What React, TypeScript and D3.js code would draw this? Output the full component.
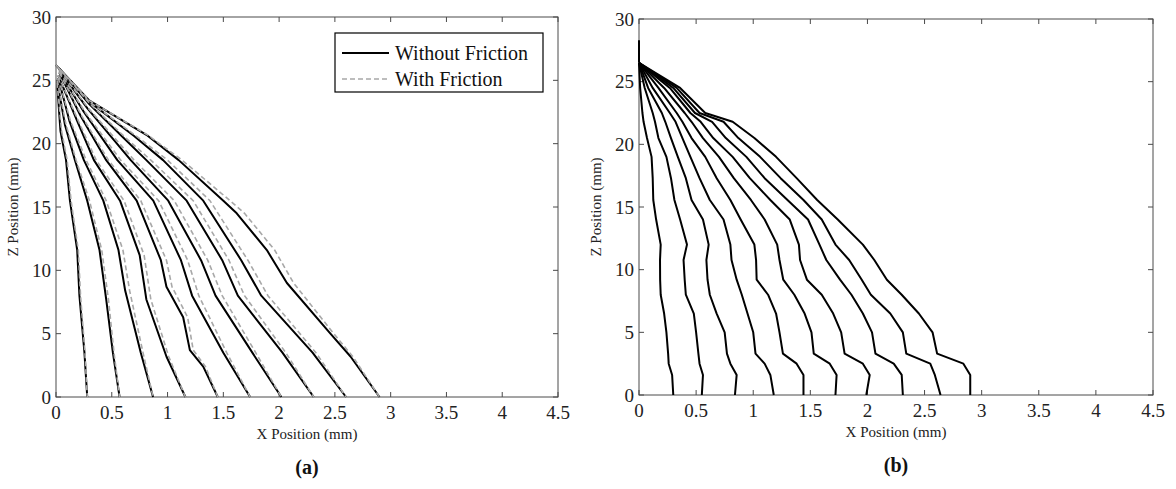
import React from "react";
import * as d3 from "d3";

// ---------- data ----------
const X_TICKS = [0, 0.5, 1, 1.5, 2, 2.5, 3, 3.5, 4, 4.5];
const Y_TICKS = [0, 5, 10, 15, 20, 25, 30];
const X_DOMAIN: [number, number] = [0, 4.5];
const Y_DOMAIN: [number, number] = [0, 30];

const LEGEND_LABELS = ["Without Friction", "With Friction"];
const X_LABEL = "X Position (mm)";
const Y_LABEL = "Z Position (mm)";
const PANEL_LABELS = ["(a)", "(b)"];

// Panel (a): black solid curves, without friction, [x, z]
const LEFT_WITHOUT: [number, number][][] = [
  [[0.01, 24.8], [0.04, 21.0], [0.09, 18.7], [0.125, 15.5], [0.19, 11.6], [0.21, 8], [0.255, 3.5], [0.28, 0]],
  [[0.01, 25.0], [0.08, 21.5], [0.17, 18.7], [0.28, 15.5], [0.39, 11.6], [0.45, 7.7], [0.51, 3.5], [0.57, 0]],
  [[0.02, 25.2], [0.12, 21.8], [0.25, 18.7], [0.424, 15.5], [0.56, 11.6], [0.62, 8.4], [0.76, 3.5], [0.87, 0]],
  [[0.02, 25.4], [0.18, 22.0], [0.34, 18.7], [0.574, 15.5], [0.75, 11.2], [0.81, 7.7], [0.99, 3.2], [1.16, 0]],
  [[0.03, 25.6], [0.22, 22.2], [0.45, 18.7], [0.723, 15.5], [0.94, 10.8], [0.99, 8.7], [1.14, 6.3], [1.2, 3.7], [1.32, 2.4], [1.45, 0]],
  [[0.03, 25.7], [0.25, 22.5], [0.55, 18.7], [0.872, 15.5], [1.12, 10.8], [1.22, 8], [1.5, 3.5], [1.74, 0]],
  [[0.03, 25.8], [0.28, 22.8], [0.67, 18.7], [1.006, 15.5], [1.3, 10.8], [1.43, 8], [1.76, 3.5], [2.02, 0]],
  [[0.03, 25.9], [0.3, 23.1], [0.6, 20.5], [0.81, 18.7], [1.171, 15.5], [1.49, 10.8], [1.63, 8], [2.03, 3.5], [2.31, 0]],
  [[0.02, 26.0], [0.3, 23.3], [0.7, 20.6], [0.96, 18.7], [1.32, 15.5], [1.66, 10.8], [1.84, 8], [2.3, 3.5], [2.6, 0]],
  [[0, 26.2], [0.3, 23.4], [0.81, 20.7], [1.1, 18.7], [1.5, 15.5], [1.62, 14.5], [1.89, 11.6], [2.07, 9.0], [2.46, 5.0], [2.64, 3.2], [2.9, 0]],
];

// Panel (a): grey dashed curves, with friction, [x, z]
const LEFT_WITH: [number, number][][] = [
  [[0.01, 24.8], [0.05, 21.0], [0.1, 18.7], [0.135, 15.5], [0.2, 11.6], [0.22, 8], [0.26, 3.5], [0.28, 0]],
  [[0.01, 25.0], [0.09, 21.5], [0.18, 18.7], [0.3, 15.5], [0.41, 11.6], [0.47, 7.7], [0.52, 3.5], [0.57, 0]],
  [[0.02, 25.2], [0.13, 21.8], [0.27, 18.7], [0.45, 15.5], [0.6, 11.6], [0.66, 8.4], [0.78, 3.5], [0.87, 0]],
  [[0.02, 25.4], [0.19, 22.0], [0.36, 18.7], [0.61, 15.5], [0.79, 11.2], [0.85, 7.7], [1.01, 3.2], [1.16, 0]],
  [[0.03, 25.6], [0.23, 22.2], [0.47, 18.7], [0.76, 15.5], [0.99, 10.8], [1.04, 8.7], [1.18, 6.3], [1.23, 3.7], [1.34, 2.4], [1.45, 0]],
  [[0.03, 25.7], [0.26, 22.5], [0.58, 18.7], [0.92, 15.5], [1.18, 10.8], [1.28, 8], [1.53, 3.5], [1.74, 0]],
  [[0.03, 25.8], [0.29, 22.8], [0.7, 18.7], [1.06, 15.5], [1.36, 10.8], [1.49, 8], [1.79, 3.5], [2.02, 0]],
  [[0.03, 25.9], [0.31, 23.1], [0.62, 20.5], [0.85, 18.7], [1.23, 15.5], [1.55, 10.8], [1.69, 8], [2.06, 3.5], [2.31, 0]],
  [[0.02, 26.0], [0.3, 23.3], [0.72, 20.6], [1.0, 18.7], [1.38, 15.5], [1.72, 10.8], [1.9, 8], [2.33, 3.5], [2.6, 0]],
  [[0, 26.2], [0.3, 23.4], [0.82, 20.7], [1.13, 18.7], [1.56, 15.5], [1.69, 14.5], [1.96, 11.6], [2.13, 9.0], [2.49, 5.0], [2.66, 3.2], [2.9, 0]],
];

// Panel (b): z levels shared by every curve, and x of each curve at those levels
const RIGHT_Z = [26.5, 24.5, 22.5, 21.8, 20.5, 19, 17.3, 15.56, 14, 12, 10.77, 9.2, 8, 6.5, 5, 3.3, 2.5, 1.6, 0];
const RIGHT_X: number[][] = [
  [0, 0.01, 0.03, 0.04, 0.07, 0.11, 0.12, 0.125, 0.15, 0.19, 0.184, 0.185, 0.19, 0.22, 0.24, 0.255, 0.26, 0.29, 0.3],
  [0, 0.05, 0.12, 0.14, 0.17, 0.24, 0.28, 0.31, 0.36, 0.42, 0.39, 0.4, 0.41, 0.48, 0.5, 0.52, 0.53, 0.56, 0.55],
  [0, 0.08, 0.2, 0.23, 0.28, 0.34, 0.41, 0.46, 0.56, 0.61, 0.59, 0.6, 0.62, 0.68, 0.75, 0.77, 0.8, 0.855, 0.84],
  [0, 0.12, 0.27, 0.32, 0.38, 0.45, 0.53, 0.62, 0.74, 0.8, 0.81, 0.855, 0.9, 0.95, 1.0, 1.02, 1.1, 1.15, 1.18],
  [0, 0.17, 0.33, 0.38, 0.46, 0.58, 0.68, 0.8, 0.89, 1.01, 1.025, 1.03, 1.13, 1.2, 1.23, 1.26, 1.38, 1.44, 1.44],
  [0, 0.22, 0.4, 0.46, 0.56, 0.7, 0.83, 0.98, 1.1, 1.21, 1.23, 1.263, 1.36, 1.45, 1.51, 1.53, 1.67, 1.73, 1.72],
  [0, 0.27, 0.45, 0.54, 0.65, 0.82, 0.97, 1.15, 1.32, 1.4, 1.41, 1.47, 1.6, 1.7, 1.77, 1.8, 1.96, 2.02, 1.99],
  [0, 0.3, 0.49, 0.64, 0.76, 0.94, 1.1, 1.3, 1.48, 1.58, 1.64, 1.76, 1.86, 1.96, 2.04, 2.07, 2.23, 2.3, 2.31],
  [0, 0.33, 0.53, 0.74, 0.87, 1.06, 1.24, 1.44, 1.6, 1.72, 1.84, 1.95, 2.03, 2.2, 2.31, 2.34, 2.55, 2.59, 2.64],
  [0, 0.36, 0.58, 0.82, 1.01, 1.2, 1.38, 1.56, 1.74, 1.96, 2.06, 2.17, 2.3, 2.45, 2.57, 2.61, 2.84, 2.9, 2.9],
];
const RIGHT_STUB: [number, number][] = [[0, 28.3], [0, 26.5]];

// ---------- layout ----------
const W = 1176;
const H = 489;
const FONT = "'Liberation Serif', 'Times New Roman', serif";

type Frame = { left: number; right: number; top: number; bottom: number };
const FRAME_A: Frame = { left: 56, right: 558, top: 17, bottom: 397 };
const FRAME_B: Frame = { left: 639, right: 1153, top: 19, bottom: 395 };

function Axes({ f, label }: { f: Frame; label: string }) {
  const x = d3.scaleLinear().domain(X_DOMAIN).range([f.left, f.right]);
  const y = d3.scaleLinear().domain(Y_DOMAIN).range([f.bottom, f.top]);
  const tl = 5;
  const stroke = "#4a4a4a";
  return (
    <g>
      <rect x={f.left} y={f.top} width={f.right - f.left} height={f.bottom - f.top} fill="none" stroke={stroke} strokeWidth={1} />
      {X_TICKS.map((t) => (
        <g key={"x" + t}>
          <line x1={x(t)} x2={x(t)} y1={f.bottom} y2={f.bottom - tl} stroke={stroke} />
          <line x1={x(t)} x2={x(t)} y1={f.top} y2={f.top + tl} stroke={stroke} />
          <text x={x(t)} y={f.bottom + 22} textAnchor="middle" fontFamily={FONT} fontSize={19} fill="#222">
            {String(t)}
          </text>
        </g>
      ))}
      {Y_TICKS.map((t) => (
        <g key={"y" + t}>
          <line x1={f.left} x2={f.left + tl} y1={y(t)} y2={y(t)} stroke={stroke} />
          <line x1={f.right} x2={f.right - tl} y1={y(t)} y2={y(t)} stroke={stroke} />
          <text x={f.left - 5} y={y(t)} dy="0.35em" textAnchor="end" fontFamily={FONT} fontSize={19} fill="#222">
            {String(t)}
          </text>
        </g>
      ))}
      <text x={(f.left + f.right) / 2} y={f.bottom + 42} textAnchor="middle" fontFamily={FONT} fontSize={15} fill="#222">
        {X_LABEL}
      </text>
      <text
        transform={`translate(${f.left - 38},${(f.top + f.bottom) / 2}) rotate(-90)`}
        textAnchor="middle"
        fontFamily={FONT}
        fontSize={15}
        fill="#222"
      >
        {Y_LABEL}
      </text>
      <text x={(f.left + f.right) / 2} y={f.bottom + 77} textAnchor="middle" fontFamily={FONT} fontSize={20} fontWeight="bold" fill="#111">
        {label}
      </text>
    </g>
  );
}

export default function App() {
  const xa = d3.scaleLinear().domain(X_DOMAIN).range([FRAME_A.left, FRAME_A.right]);
  const ya = d3.scaleLinear().domain(Y_DOMAIN).range([FRAME_A.bottom, FRAME_A.top]);
  const xb = d3.scaleLinear().domain(X_DOMAIN).range([FRAME_B.left, FRAME_B.right]);
  const yb = d3.scaleLinear().domain(Y_DOMAIN).range([FRAME_B.bottom, FRAME_B.top]);

  const lineA = d3.line<[number, number]>().x((d) => xa(d[0])).y((d) => ya(d[1]));
  const lineB = d3.line<[number, number]>().x((d) => xb(d[0])).y((d) => yb(d[1]));

  const rightCurves: [number, number][][] = RIGHT_X.map((xs) => xs.map((v, i) => [v, RIGHT_Z[i]] as [number, number]));

  // legend
  const lg = { x: 335, y: 33, w: 208, h: 59 };

  return (
    <svg width={W} height={H} style={{ position: "absolute", left: 0, top: 0, background: "#fff" }}>
      <rect x={0} y={0} width={W} height={H} fill="#fff" />
      <Axes f={FRAME_A} label={PANEL_LABELS[0]} />
      <Axes f={FRAME_B} label={PANEL_LABELS[1]} />

      {/* panel a */}
      <g fill="none">
        {LEFT_WITHOUT.map((c, i) => (
          <path key={"a" + i} d={lineA(c) || ""} stroke="#000" strokeWidth={2} strokeLinejoin="round" />
        ))}
        {LEFT_WITH.map((c, i) => (
          <path key={"b" + i} d={lineA(c) || ""} stroke="#a8a8a8" strokeWidth={1.6} strokeDasharray="5,3" />
        ))}
      </g>

      {/* panel b */}
      <g fill="none">
        {rightCurves.map((c, i) => (
          <path key={"r" + i} d={lineB(c) || ""} stroke="#000" strokeWidth={2} strokeLinejoin="round" />
        ))}
        <path d={lineB(RIGHT_STUB) || ""} stroke="#000" strokeWidth={2} />
      </g>

      {/* legend */}
      <g>
        <rect x={lg.x} y={lg.y} width={lg.w} height={lg.h} fill="#fff" stroke="#000" strokeWidth={1.2} />
        <line x1={lg.x + 7} x2={lg.x + 54} y1={lg.y + 20} y2={lg.y + 20} stroke="#000" strokeWidth={2} />
        <line x1={lg.x + 7} x2={lg.x + 54} y1={lg.y + 46} y2={lg.y + 46} stroke="#a8a8a8" strokeWidth={1.6} strokeDasharray="5,3" />
        <text x={lg.x + 60} y={lg.y + 20} dy="0.35em" fontFamily={FONT} fontSize={20} fill="#111">
          {LEGEND_LABELS[0]}
        </text>
        <text x={lg.x + 60} y={lg.y + 46} dy="0.35em" fontFamily={FONT} fontSize={20} fill="#111">
          {LEGEND_LABELS[1]}
        </text>
      </g>
    </svg>
  );
}
